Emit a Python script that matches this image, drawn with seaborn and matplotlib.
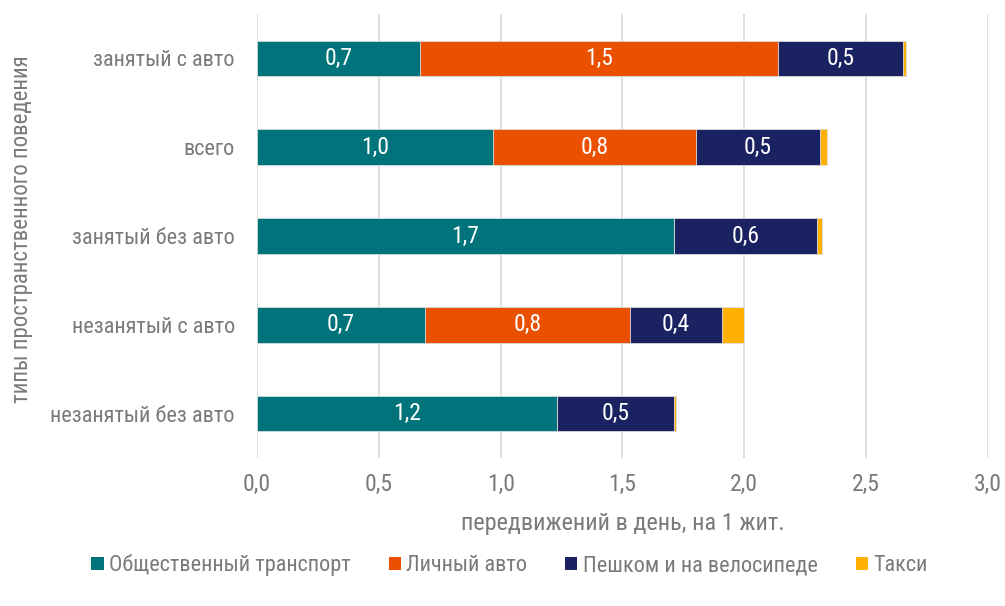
import matplotlib
matplotlib.use("Agg")
import matplotlib.pyplot as plt
from matplotlib import font_manager
from matplotlib.patches import Patch
from matplotlib.ticker import FuncFormatter
import numpy as np
import pandas as pd
import seaborn as sns

# data (trips per day per resident)
types = ["занятый с авто", "всего", "занятый без авто",
         "незанятый с авто", "незанятый без авто"]
public_transport = [0.67, 0.97, 1.71, 0.69, 1.23]
private_car = [1.47, 0.83, 0.0, 0.84, 0.0]
walk_bike = [0.51, 0.51, 0.59, 0.38, 0.48]
taxi = [0.012, 0.03, 0.02, 0.09, 0.008]

modes = ["Общественный транспорт", "Личный авто", "Пешком и на велосипеде", "Такси"]
colors = ["#00747A", "#EA5000", "#1B2262", "#FFB000"]
series = [public_transport, private_car, walk_bike, taxi]

text_grey = "#7a7a7a"

sns.set_theme(style="white")
# the original uses a condensed face; fall back to a smaller Roboto if none is installed
installed = {f.name for f in font_manager.fontManager.ttflist}
condensed = [n for n in ["Roboto Condensed", "Arial Narrow", "Liberation Sans Narrow"] if n in installed]
if condensed:
    plt.rcParams["font.family"] = [condensed[0], "DejaVu Sans"]
    scale = 1.0
else:
    plt.rcParams["font.family"] = ["Roboto", "DejaVu Sans"]
    scale = 0.82
fs = 16 * scale

fig = plt.figure(figsize=(10.05, 6.06), dpi=100)
ax = fig.add_axes([0.2557, 0.2442, 0.7274, 0.7327])

# stacked bars: draw cumulative totals from the top layer down
vals = np.array(series)
cum = np.cumsum(vals, axis=0)
for i in range(len(modes) - 1, -1, -1):
    df = pd.DataFrame({"type": types, "value": cum[i]})
    sns.barplot(data=df, x="value", y="type", order=types, orient="h",
                color=colors[i], saturation=1, width=0.4,
                edgecolor="#dddddd", linewidth=0.6, ax=ax, zorder=3)

# segment labels
for i in range(3):
    left = cum[i] - vals[i]
    for j, v in enumerate(vals[i]):
        if v >= 0.3:
            ax.text(left[j] + v / 2, j, f"{v:.1f}".replace(".", ","),
                    ha="center", va="center", color="white", fontsize=17 * scale, zorder=5)

ax.set_xlim(0, 3.0)
ax.set_ylim(4.5, -0.5)
ax.set_xticks(np.arange(0, 3.01, 0.5))
ax.xaxis.set_major_formatter(FuncFormatter(lambda x, p: f"{x:.1f}".replace(".", ",")))
ax.grid(axis="x", color="#d9d9d9", linewidth=1.2, zorder=0)
ax.grid(axis="y", visible=False)
for s in ax.spines.values():
    s.set_visible(False)
ax.tick_params(axis="both", length=0, labelcolor=text_grey)
ax.tick_params(axis="x", pad=11, labelsize=17 * scale)
ax.tick_params(axis="y", pad=16, labelsize=fs)

ax.set_xlabel("передвижений в день, на 1 жит.", fontsize=17.5 * scale, color=text_grey, labelpad=11)
ax.set_ylabel("типы пространственного поведения", fontsize=16.5 * scale, color=text_grey)
ax.yaxis.set_label_coords(-0.307, 0.515)

handles = [Patch(facecolor=c, edgecolor="none") for c in colors]
fig.legend(handles, modes, loc="center", bbox_to_anchor=(0.507, 0.067), ncol=4,
           frameon=False, fontsize=fs, labelcolor=text_grey,
           handlelength=0.55, handleheight=0.55, handletextpad=0.25, columnspacing=1.7)

fig.savefig("out.png", dpi=100)
